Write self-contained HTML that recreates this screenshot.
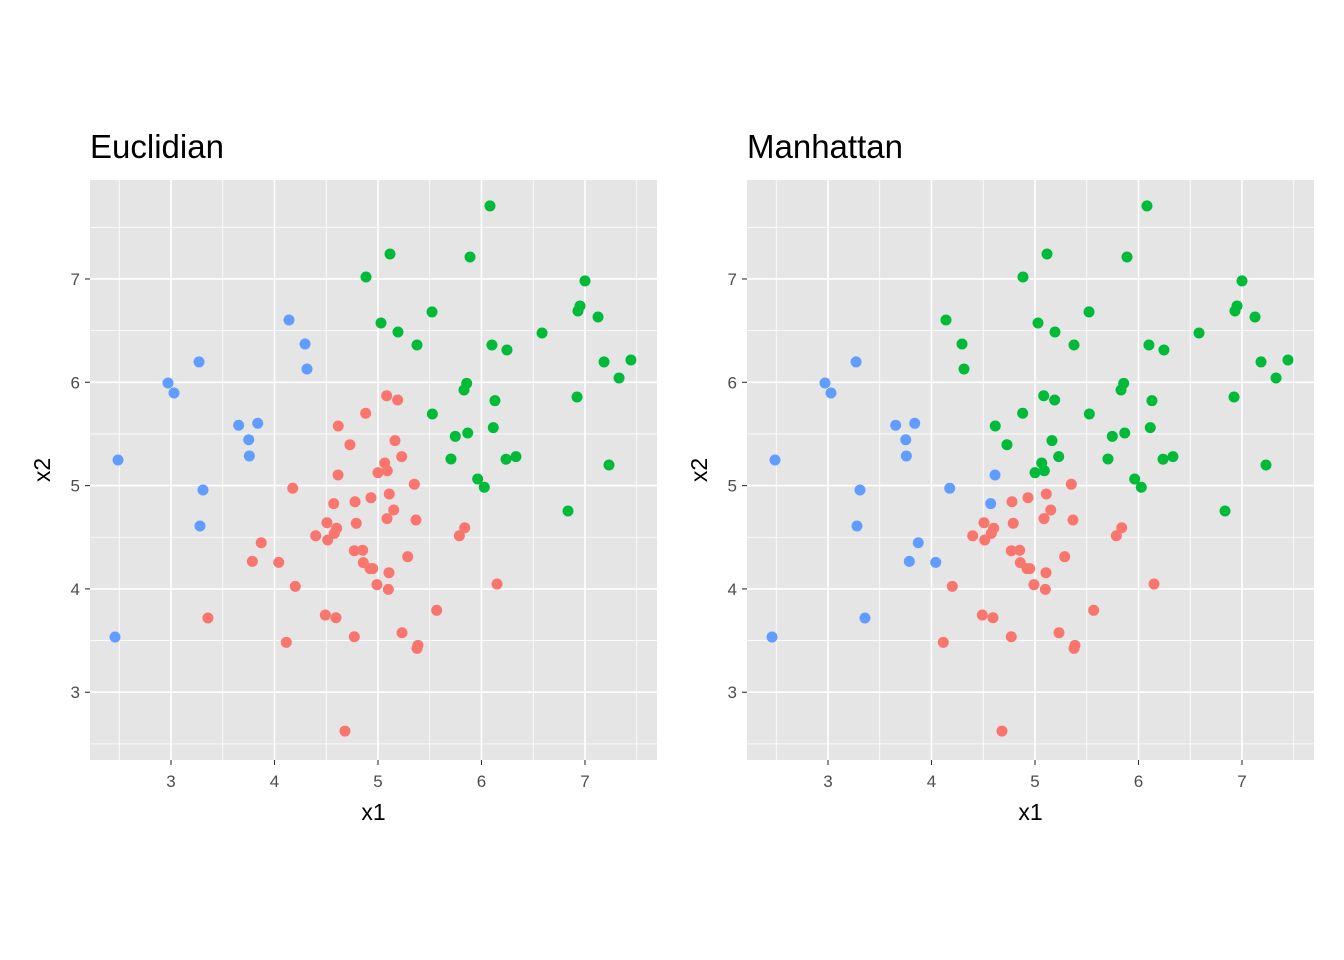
<!DOCTYPE html>
<html><head><meta charset="utf-8"><style>
html,body{margin:0;padding:0;background:#fff;}
svg{display:block;font-family:"Liberation Sans",Arial,sans-serif;}
</style></head><body>
<svg id="chart" width="1344" height="960" viewBox="0 0 1344 960"></svg>
<script>
const xValues = [5.084,5.190,4.881,4.616,4.729,5.164,5.229,5.065,5.000,5.090,4.614,4.176,5.351,5.109,4.932,4.778,4.572,5.152,5.087,5.367,4.790,4.507,4.601,4.578,4.398,4.514,5.838,5.786,3.872,3.786,4.041,4.771,4.852,4.858,4.923,4.949,5.287,5.106,4.990,5.100,4.201,6.150,4.491,4.594,5.567,4.114,4.771,5.232,5.386,5.377,3.357,4.681,
2.488,2.971,3.029,3.271,3.309,3.280,2.459,4.140,4.295,4.314,3.654,3.838,3.751,3.757,
5.857,5.831,6.130,5.525,5.747,5.867,6.114,5.705,6.237,6.333,5.963,6.027,6.082,5.116,4.884,5.889,5.029,5.193,5.377,5.522,6.101,6.246,6.585,7.000,6.952,6.932,7.126,7.184,7.444,7.329,6.923,7.232,6.836];
const yValues = [5.870,5.829,5.700,5.577,5.396,5.435,5.280,5.219,5.125,5.144,5.103,4.974,5.013,4.919,4.883,4.844,4.825,4.764,4.680,4.667,4.635,4.641,4.587,4.538,4.515,4.473,4.592,4.515,4.447,4.267,4.257,4.370,4.374,4.254,4.196,4.196,4.312,4.157,4.041,3.996,4.025,4.047,3.747,3.721,3.793,3.483,3.537,3.576,3.454,3.425,3.718,2.624,
5.248,5.993,5.896,6.197,4.957,4.609,3.534,6.603,6.371,6.129,5.584,5.603,5.444,5.287,
5.990,5.925,5.822,5.693,5.477,5.509,5.561,5.258,5.255,5.280,5.064,4.984,7.707,7.242,7.019,7.213,6.574,6.487,6.361,6.681,6.361,6.313,6.477,6.981,6.739,6.690,6.632,6.197,6.216,6.042,5.858,5.199,4.754];
const euclidCluster = "RRRRRRRRRRRRRRRRRRRRRRRRRRRRRRRRRRRRRRRRRRRRRRRRRRRR"+"BBBBBBBBBBBBBB"+"GGGGGGGGGGGGGGGGGGGGGGGGGGGGGGGGG";
const manhCluster   = "GGGGGGGGGGBBRRRRBRRRRRRRRRRRBBBRRRRRRRRRRRRRRRRRRRBR"+"BBBBBBBGGGBBBB"+"GGGGGGGGGGGGGGGGGGGGGGGGGGGGGGGGG";
const tickValues = [3,4,5,6,7];
const minorValues = [2.5,3.5,4.5,5.5,6.5,7.5];
const panelTitles = ["Euclidian","Manhattan"];
const colors = {R:"#F8766D",G:"#00BA38",B:"#619CFF"};

const NS="http://www.w3.org/2000/svg";
const svg=document.getElementById('chart');
function mk(tag,attrs,parent){const e=document.createElementNS(NS,tag);for(const k in attrs)e.setAttribute(k,attrs[k]);(parent||svg).appendChild(e);return e;}
const PW=567, PT=180, PH=580;
const xMin=2.2174, xMax=7.6957, yMin=2.344, yMax=7.958;
const offsets=[90,747];
[euclidCluster,manhCluster].forEach((cl,pi)=>{
  const L=offsets[pi];
  const sx=v=>L+(v-xMin)/(xMax-xMin)*PW;
  const sy=v=>PT+PH-(v-yMin)/(yMax-yMin)*PH;
  const g=mk('g',{});
  
  
  const bg=mk('rect',{x:L,y:PT,width:PW,height:PH,fill:'#E5E5E5'},g);
  
  
  minorValues.forEach(v=>{
    mk('line',{x1:sx(v),x2:sx(v),y1:PT,y2:PT+PH,stroke:'#fff','stroke-width':0.8},g);
    mk('line',{x1:L,x2:L+PW,y1:sy(v),y2:sy(v),stroke:'#fff','stroke-width':0.8},g);
  });
  tickValues.forEach(v=>{
    mk('line',{x1:sx(v),x2:sx(v),y1:PT,y2:PT+PH,stroke:'#fff','stroke-width':1.6},g);
    mk('line',{x1:L,x2:L+PW,y1:sy(v),y2:sy(v),stroke:'#fff','stroke-width':1.6},g);
    mk('line',{x1:sx(v),x2:sx(v),y1:PT+PH,y2:PT+PH+5,stroke:'#333','stroke-width':1.1},g);
    mk('line',{x1:L-5,x2:L,y1:sy(v),y2:sy(v),stroke:'#333','stroke-width':1.1},g);
    const tx=mk('text',{x:sx(v),y:PT+PH+27,'text-anchor':'middle','font-size':17,fill:'#4D4D4D'},g);
    tx.textContent=v;
    
    
    const ty=mk('text',{x:L-10,y:sy(v)+6,'text-anchor':'end','font-size':17,fill:'#4D4D4D'},g);
    ty.textContent=v;
    
    
  });
  xValues.forEach((xv,i)=>{
    const c=mk('circle',{cx:sx(xv),cy:sy(yValues[i]),r:5.5,fill:colors[cl[i]]},g);
    
    
  });
  const t=mk('text',{x:L,y:158,'font-size':33,fill:'#000'},g);
  t.textContent=panelTitles[pi];
  
  
  const xt=mk('text',{x:L+PW/2,y:820,'text-anchor':'middle','font-size':23,fill:'#000'},g);
  xt.textContent='x1';
  
  
  const yt=mk('text',{x:0,y:0,'text-anchor':'middle','font-size':23,fill:'#000',transform:`translate(${L-40},${PT+PH/2}) rotate(-90)`},g);
  yt.textContent='x2';
  
  
});
</script>
</body></html>
